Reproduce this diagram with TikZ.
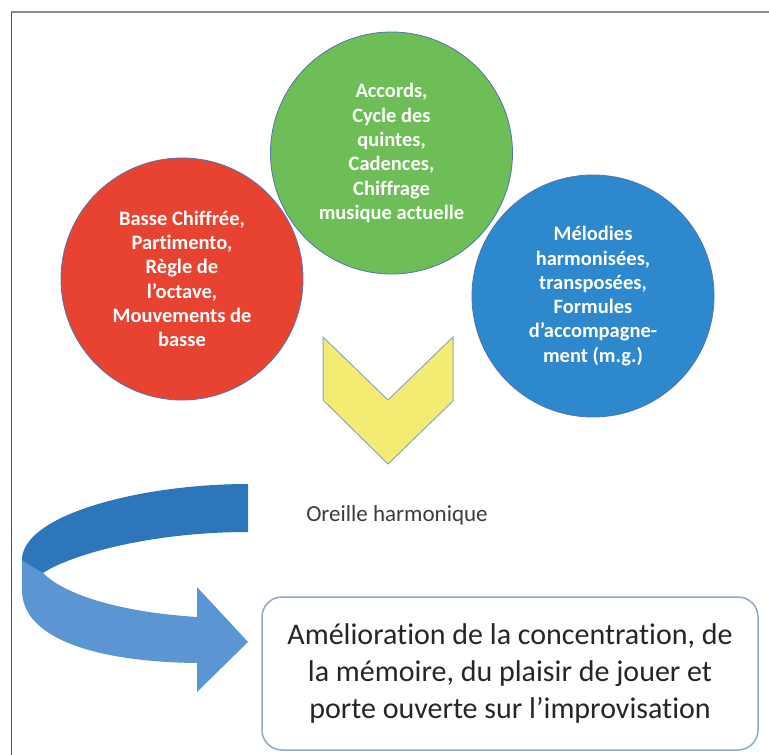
\documentclass[tikz,border=0pt]{standalone}
\usepackage{fontspec}
\setmainfont{Carlito}[Ligatures=NoCommon]
\definecolor{bubblered}{HTML}{E84331}
\definecolor{bubblegreen}{HTML}{6EBE58}
\definecolor{bubbleblue}{HTML}{2E88CE}
\definecolor{bubbleedge}{HTML}{4F74B0}
\definecolor{chevfill}{HTML}{F4EB73}
\definecolor{chevedge}{HTML}{93A8B8}
\definecolor{banddark}{HTML}{2E76BC}
\definecolor{bandlight}{HTML}{5B95D2}
\definecolor{boxedge}{HTML}{8FA8C8}
\definecolor{textdark}{HTML}{262626}
\definecolor{framegray}{HTML}{8A8A8A}
\definecolor{framedark}{HTML}{555555}
\begin{document}
\begin{tikzpicture}[x=1pt,y=-1pt,
  bubble/.style={circle, minimum size=242pt, inner sep=0pt, draw=bubbleedge,
    line width=0.8pt, text=white, align=center,
    font=\fontsize{20.5}{24.3}\selectfont\bfseries},
  chevron/.style={fill=chevfill, draw=chevedge, line width=1pt, line join=miter},
  resultbox/.style={rectangle, rounded corners=20pt, draw=boxedge, line width=1.5pt,
    minimum width=496pt, minimum height=153pt, inner sep=0pt, align=center,
    text=textdark, font=\fontsize{30}{37}\selectfont},
  caption/.style={text=textdark!90, font=\fontsize{23}{28}\selectfont, inner sep=0pt}]
\useasboundingbox (0,0) rectangle (769,755);
\fill[white] (0,0) rectangle (769,755);
% frame
\draw[framegray, line width=2pt] (11,12) -- (769,12);
\draw[framedark, line width=1pt] (11,12) -- (11,755);
% bubbles
\node[bubble, fill=bubblered] (red) at (182,279)
  {Basse Chiffrée,\\Partimento,\\Règle de\\l’octave,\\Mouvements de\\basse};
\node[bubble, fill=bubblegreen] (green) at (391.5,153)
  {Accords,\\Cycle des\\quintes,\\Cadences,\\Chiffrage\\musique actuelle};
\node[bubble, fill=bubbleblue] (blue) at (593,296)
  {Mélodies\\harmonisées,\\transposées,\\Formules\\d’accompagne-\\ment (m.g.)};
% chevron
\draw[chevron] (323,337) -- (388,400) -- (453,337) -- (453,401) -- (388,464) -- (323,400) -- cycle;
% caption
\node[caption] (oreille) at (397,515) {Oreille harmonique};
% curved arrow
\fill[bandlight] (22,556) -- (22,590) .. controls (22,640) and (100,662) .. (197,663)
  -- (197,692) -- (248,642) -- (197,587) -- (197,617)
  .. controls (120,612) and (65,595) .. (43,573) -- cycle;
\fill[banddark] (248,484) .. controls (140,484) and (22,515) .. (22,560)
  -- (43,573) .. controls (70,555) and (150,532) .. (248,532) -- cycle;
% result box
\node[resultbox] (result) at (510,673.5)
  {Amélioration de la concentration, de\\la mémoire, du plaisir de jouer et\\porte ouverte sur l’improvisation};
\end{tikzpicture}
\end{document}
